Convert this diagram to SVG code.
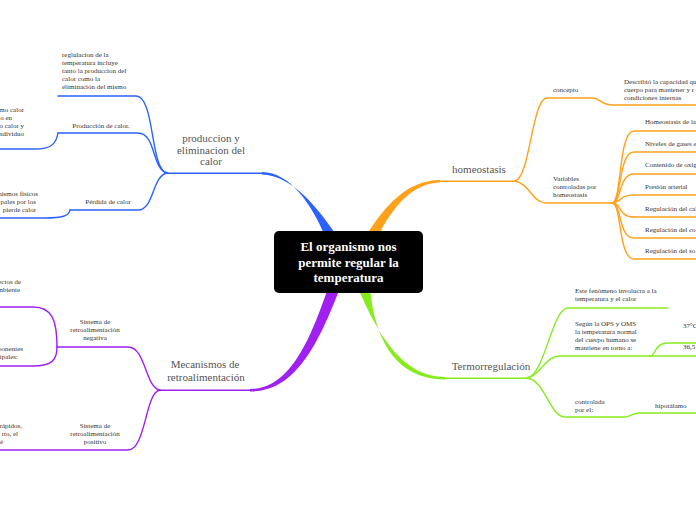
<svg xmlns="http://www.w3.org/2000/svg" width="696" height="520" viewBox="0 0 696 520">
<style>
.s{font-family:"Liberation Serif","DejaVu Serif",serif;font-size:7px;fill:#333}
.m{font-family:"Liberation Serif","DejaVu Serif",serif;font-size:11px;fill:#555;text-anchor:middle}
.c{font-family:"Liberation Serif","DejaVu Serif",serif;font-size:13px;font-weight:bold;fill:#fff;text-anchor:middle}
.e{text-anchor:end}
.mid{text-anchor:middle}
.b{stroke:#2962ff}
.o{stroke:#ffa11a}
.p{stroke:#a020f0}
.g{stroke:#86ec1e}
.ln{fill:none;stroke-width:1.4;stroke-linecap:round}
</style>
<rect width="696" height="520" fill="#fff"/>
<g id="connectors">
  <!-- main tapered branches -->
  <path d="M 325 236 C 312 205 290 172 262 172 L 262 174.4 C 292 175 318 208 337 236 Z" fill="#2962ff"/>
  <path d="M 262 173.2 L 166 173.2" class="ln b" stroke-width="2"/>
  <path d="M 366 236 C 385 205 408 180 440 180 L 440 182.4 C 412 183 392 208 378 236 Z" fill="#ffa11a"/>
  <path d="M 440 181.2 L 515 181.2" class="ln o" stroke-width="2"/>
  <path d="M 328 288 C 310 340 290 389 250 389 L 250 391.4 C 295 392 318 345 340 288 Z" fill="#a020f0"/>
  <path d="M 250 390.2 L 160 390.2" class="ln p" stroke-width="2"/>
  <path d="M 358 288 C 380 340 405 377 445 377 L 445 379.4 C 400 380 375 345 370 288 Z" fill="#86ec1e"/>
  <path d="M 445 378.2 L 527 378.2" class="ln g" stroke-width="2"/>
  <!-- blue children -->
  <path class="ln b" d="M 167 173 C 150 170 155 96 136 96 L 58 96"/>
  <path class="ln b" d="M 167 173 C 152 170 156 133 138 133 L 58 133"/>
  <path class="ln b" d="M 167 173 C 152 176 154 210 138 210 L 70 210"/>
  <path class="ln b" d="M 58 133 C 56 145 50 149 35 149 L 0 149"/>
  <path class="ln b" d="M 70 210 C 69 216 62 218 45 218 L 0 218"/>
  <!-- purple children -->
  <path class="ln p" d="M 160 390 C 145 388 146 347 128 347 L 57 347"/>
  <path class="ln p" d="M 160 390 C 145 392 146 450 128 450 L 0 450"/>
  <path class="ln p" d="M 57 347 C 57 320 52 307 33 307 L 0 307"/>
  <path class="ln p" d="M 57 347 C 57 360 52 366 33 366 L 0 366"/>
  <!-- orange children -->
  <path class="ln o" d="M 515 181 C 530 178 532 98 547 98 L 593 98 C 600 98 601 105 613 105 L 696 105"/>
  <path class="ln o" d="M 515 181 C 530 184 532 203 547 203 L 612 203"/>
  <path class="ln o" d="M 612 203 C 622 203 618 131 634 131 L 696 131"/>
  <path class="ln o" d="M 612 203 C 622 203 618 152 634 152 L 696 152"/>
  <path class="ln o" d="M 612 203 C 622 203 618 174 634 174 L 696 174"/>
  <path class="ln o" d="M 612 203 C 622 203 618 195 634 195 L 696 195"/>
  <path class="ln o" d="M 612 203 C 622 203 618 217 634 217 L 696 217"/>
  <path class="ln o" d="M 612 203 C 622 203 618 238 634 238 L 696 238"/>
  <path class="ln o" d="M 612 203 C 622 203 618 259 634 259 L 696 259"/>
  <!-- green children -->
  <path class="ln g" d="M 527 378 C 545 375 552 308 568 308 L 668 308"/>
  <path class="ln g" d="M 527 378 C 540 376 545 356 560 356 L 696 356"/>
  <path class="ln g" d="M 650 356 C 656 356 654 343 668 343 L 696 343"/>
  <path class="ln g" d="M 527 378 C 545 380 550 417 565 417 L 625 417 C 630 417 632 413 640 413 L 696 413"/>
</g>
<g id="center">
  <rect x="274" y="231" width="149" height="62" rx="5" fill="#000"/>
  <text class="c" x="348.5" y="251">El organismo nos</text>
  <text class="c" x="348.5" y="267">permite regular la</text>
  <text class="c" x="348.5" y="282">temperatura</text>
</g>
<g id="produccion">
  <text class="m" x="211" y="142">produccion y</text>
  <text class="m" x="211" y="153.5">eliminacion del</text>
  <text class="m" x="211" y="165">calor</text>
</g>
<g id="reglulacion">
  <text class="s" x="62" y="57">reglulacion de la</text>
  <text class="s" x="62" y="65">temperatura incluye</text>
  <text class="s" x="62" y="73">tanto la produccion del</text>
  <text class="s" x="62" y="81">calor como la</text>
  <text class="s" x="62" y="89">eliminación del mismo</text>
</g>
<g id="produccion-calor">
  <text class="s mid" x="101" y="128">Producción de calor.</text>
</g>
<g id="produccion-calor-det">
  <text class="s e" x="24" y="112">mo calor</text>
  <text class="s e" x="12" y="120">o en</text>
  <text class="s e" x="24" y="128">o calor y</text>
  <text class="s e" x="24" y="136">ndividuo</text>
</g>
<g id="perdida">
  <text class="s mid" x="108" y="204">Pérdida de calor</text>
</g>
<g id="perdida-det">
  <text class="s e" x="38" y="196">nismos físicos</text>
  <text class="s e" x="36" y="204">pales por los</text>
  <text class="s e" x="36" y="212">pierde calor</text>
</g>
<g id="mecanismos">
  <text class="m" x="205" y="368">Mecanismos de</text>
  <text class="m" x="206" y="381">retroalimentación</text>
</g>
<g id="negativa">
  <text class="s mid" x="95" y="324">Sistema de</text>
  <text class="s mid" x="95" y="332">retroalimentación</text>
  <text class="s mid" x="95" y="340">negativa</text>
</g>
<g id="negativa-a">
  <text class="s e" x="21" y="284">ectos de</text>
  <text class="s e" x="20" y="292">mbiente</text>
</g>
<g id="negativa-b">
  <text class="s e" x="23" y="351">ponentes</text>
  <text class="s e" x="18" y="359">cipales:</text>
</g>
<g id="positivo">
  <text class="s mid" x="95" y="428">Sistema de</text>
  <text class="s mid" x="95" y="436">retroalimentación</text>
  <text class="s mid" x="95" y="444">positivo</text>
</g>
<g id="positivo-det">
  <text class="s e" x="22" y="428">rápidos,</text>
  <text class="s e" x="18" y="436">rto, el</text>
  <text class="s e" x="3" y="444">é</text>
</g>
<g id="homeostasis">
  <text class="m" x="479" y="173">homeostasis</text>
</g>
<g id="concepto">
  <text class="s" x="553" y="92">concepto</text>
</g>
<g id="concepto-det">
  <text class="s" x="624" y="84">Describió la capacidad qu</text>
  <text class="s" x="624" y="92">cuerpo para mantener y r</text>
  <text class="s" x="624" y="100">condiciones internas</text>
</g>
<g id="variables">
  <text class="s" x="553" y="181">Variables</text>
  <text class="s" x="553" y="189">controladas por</text>
  <text class="s" x="553" y="197">homeostasis</text>
</g>
<g id="v1"><text class="s" x="645" y="124">Homeostasis de la</text></g>
<g id="v2"><text class="s" x="645" y="146">Niveles de gases e</text></g>
<g id="v3"><text class="s" x="645" y="167">Contenido de oxíg</text></g>
<g id="v4"><text class="s" x="645" y="189">Presión arterial</text></g>
<g id="v5"><text class="s" x="645" y="211">Regulación del cal</text></g>
<g id="v6"><text class="s" x="645" y="232">Regulación del co</text></g>
<g id="v7"><text class="s" x="645" y="253">Regulación del so</text></g>
<g id="termorregulacion">
  <text class="m" x="491" y="370">Termorregulación</text>
</g>
<g id="fenomeno">
  <text class="s" x="575" y="293">Este fenómeno involucra a la</text>
  <text class="s" x="575" y="301">temperatura y el calor</text>
</g>
<g id="segun">
  <text class="s" x="575" y="326">Según la OPS y OMS</text>
  <text class="s" x="575" y="334">la temperatura normal</text>
  <text class="s" x="575" y="342">del cuerpo humano se</text>
  <text class="s" x="575" y="350">mantiene en torno a:</text>
</g>
<g id="t37"><text class="s" x="683" y="328">37°C</text></g>
<g id="t365"><text class="s" x="683" y="349">36,5</text></g>
<g id="controlada">
  <text class="s" x="575" y="404">controlada</text>
  <text class="s" x="575" y="412">por el:</text>
</g>
<g id="hipotalamo"><text class="s" x="655" y="408">hipotálamo</text></g>
</svg>
